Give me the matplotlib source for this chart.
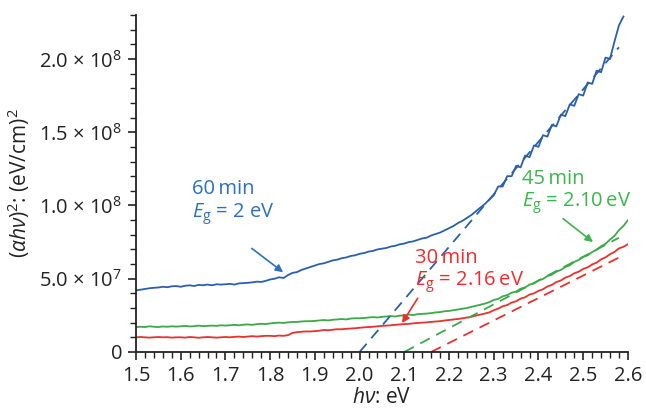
import numpy as np
import matplotlib
matplotlib.use("Agg")
import matplotlib.pyplot as plt
from matplotlib.ticker import MultipleLocator, FixedLocator, FixedFormatter

plt.rcParams['font.family'] = ['Open Sans', 'DejaVu Sans']
plt.rcParams['mathtext.fontset'] = 'custom'
plt.rcParams['mathtext.rm'] = 'Open Sans'
plt.rcParams['mathtext.it'] = 'Open Sans:italic'
plt.rcParams['mathtext.bf'] = 'Open Sans:bold'

# ---- data (y in units of 1e7 (eV/cm)^2) ----
hv = np.round(np.arange(1.50, 2.605, 0.01), 2)

blue_60 = [4.20, 4.25, 4.30, 4.35, 4.38, 4.40, 4.45, 4.42, 4.48, 4.50,
           4.45, 4.52, 4.55, 4.50, 4.58, 4.55, 4.60, 4.55, 4.62, 4.60,
           4.62, 4.65, 4.60, 4.68, 4.70, 4.72, 4.75, 4.80, 4.78, 4.85,
           4.95, 5.00, 5.10, 5.05, 5.25, 5.40, 5.45, 5.60, 5.70, 5.80,
           5.90, 6.00, 6.05, 6.15, 6.25, 6.30, 6.40, 6.45, 6.55, 6.60,
           6.70, 6.75, 6.85, 6.90, 7.00, 7.05, 7.10, 7.20, 7.25, 7.35,
           7.40, 7.50, 7.55, 7.65, 7.75, 7.80, 7.95, 8.05, 8.15, 8.30,
           8.45, 8.60, 8.80, 8.95, 9.15, 9.35, 9.60, 9.85, 10.1, 10.4,
           10.7, 11.3, 11.3, 12.0, 12.0, 12.7, 12.6, 13.4, 13.3, 14.1,
           14.0, 14.8, 14.7, 15.5, 15.4, 16.2, 16.1, 16.9, 16.8, 17.6,
           17.5, 18.4, 18.3, 19.2, 19.1, 20.1, 20.0, 21.2, 22.3, 22.9]

green_45 = [1.70, 1.72, 1.70, 1.75, 1.72, 1.70, 1.74, 1.72, 1.75, 1.73,
            1.75, 1.78, 1.74, 1.76, 1.80, 1.76, 1.78, 1.80, 1.78, 1.82,
            1.80, 1.82, 1.85, 1.82, 1.86, 1.88, 1.85, 1.90, 1.92, 1.90,
            1.95, 1.98, 2.00, 1.98, 2.02, 2.05, 2.05, 2.08, 2.10, 2.10,
            2.12, 2.15, 2.18, 2.15, 2.20, 2.22, 2.25, 2.22, 2.28, 2.30,
            2.30, 2.32, 2.35, 2.38, 2.35, 2.40, 2.42, 2.45, 2.42, 2.48,
            2.50, 2.55, 2.52, 2.58, 2.60, 2.62, 2.65, 2.70, 2.72, 2.78,
            2.80, 2.85, 2.90, 2.95, 3.00, 3.08, 3.15, 3.22, 3.30, 3.40,
            3.55, 3.62, 3.80, 3.88, 4.05, 4.12, 4.32, 4.40, 4.60, 4.68,
            4.88, 4.98, 5.18, 5.28, 5.48, 5.60, 5.80, 5.92, 6.15, 6.28,
            6.48, 6.60, 6.82, 6.98, 7.22, 7.38, 7.68, 7.92, 8.32, 8.60,
            9.00]

red_30 = [1.00, 1.02, 1.00, 0.98, 1.00, 1.02, 1.00, 1.01, 0.98, 1.00,
          1.00, 0.98, 1.02, 1.00, 0.97, 1.00, 1.02, 1.00, 0.98, 1.00,
          1.02, 1.00, 1.03, 1.05, 1.02, 1.05, 1.08, 1.05, 1.08, 1.10,
          1.10, 1.08, 1.12, 1.10, 1.15, 1.30, 1.35, 1.38, 1.40, 1.40,
          1.42, 1.45, 1.50, 1.48, 1.52, 1.55, 1.55, 1.58, 1.60, 1.62,
          1.65, 1.68, 1.70, 1.72, 1.75, 1.78, 1.80, 1.82, 1.85, 1.88,
          1.90, 1.92, 1.95, 1.98, 2.00, 2.02, 2.05, 2.08, 2.10, 2.15,
          2.18, 2.22, 2.25, 2.30, 2.35, 2.40, 2.48, 2.55, 2.62, 2.70,
          2.85, 2.96, 3.12, 3.20, 3.37, 3.46, 3.64, 3.73, 3.92, 4.00,
          4.17, 4.28, 4.47, 4.58, 4.77, 4.88, 5.07, 5.18, 5.37, 5.48,
          5.67, 5.78, 5.97, 6.10, 6.32, 6.46, 6.67, 6.83, 7.07, 7.18,
          7.35]

# linear fits (Tauc extrapolation): start x (=Eg), end x, end y (1e7 units)
fit_x0 = [2.00, 2.10, 2.16]
fit_x1 = [2.58, 2.58, 2.59]
fit_y1 = [20.8, 7.8, 6.6]

labels = ["60\u2009min\n$E_\\mathrm{g}$ = 2 eV",
          "45\u2009min\n$E_\\mathrm{g}$ = 2.10\u2009eV",
          "30\u2009min\n$E_\\mathrm{g}$ = 2.16\u2009eV"]
label_xy = [(1.626, 11.8), (2.363, 12.5), (2.124, 7.1)]
arrow_from = [(1.759, 7.07), (2.455, 9.1), (2.130, 3.67)]
arrow_to = [(1.829, 5.44), (2.522, 7.5), (2.095, 1.97)]

yticks = [0, 5, 10, 15, 20]
ytick_labels = ["0", "5.0 × 10$^{7}$", "1.0 × 10$^{8}$", "1.5 × 10$^{8}$", "2.0 × 10$^{8}$"]

line_colors = ['#2a60aa', '#3aa94a', '#e8302e']
text_colors = ['#2b70c0', '#3cb54a', '#ee2c2c']

fig = plt.figure(figsize=(6.46, 4.18), dpi=100)
ax = fig.add_axes([0.2105, 0.158, 0.7615, 0.806])

series = [(hv[:len(blue_60)], blue_60), (hv, green_45), (hv, red_30)]
for (x, y), c in zip(series, line_colors):
    ax.plot(x, y, color=c, lw=1.3)

for x0, x1, y1, c in zip(fit_x0, fit_x1, fit_y1, line_colors):
    ax.plot([x0, x1], [0, y1], color=c, lw=1.3, ls=(0, (6, 4)))

for lab, xy, a0, a1, c in zip(labels, label_xy, arrow_from, arrow_to, text_colors):
    ax.text(xy[0], xy[1], lab, color=c, fontsize=14.5, ha='left', va='top',
            linespacing=1.1)
    ax.annotate('', xy=a1, xytext=a0,
                arrowprops=dict(arrowstyle='-|>', color=c, lw=1.2,
                                mutation_scale=11, shrinkA=0, shrinkB=0))

ax.set_xlim(1.5, 2.6)
ax.set_ylim(0, 23)
ax.xaxis.set_major_locator(MultipleLocator(0.1))
ax.xaxis.set_minor_locator(MultipleLocator(0.02))
ax.xaxis.set_major_formatter(matplotlib.ticker.FormatStrFormatter('%.1f'))
ax.yaxis.set_major_locator(FixedLocator(yticks))
ax.yaxis.set_major_formatter(FixedFormatter(ytick_labels))
ax.yaxis.set_minor_locator(MultipleLocator(1))

for s in ['top', 'right']:
    ax.spines[s].set_visible(False)
for s in ['left', 'bottom']:
    ax.spines[s].set_linewidth(1.3)
    ax.spines[s].set_color('#222222')

ax.tick_params(which='major', direction='out', length=6, width=1.2,
               labelsize=14.5, colors='#222222', pad=4)
ax.tick_params(which='minor', direction='out', length=4, width=1.0, colors='#222222')

ax.set_xlabel('$h\\nu$: eV', fontsize=15, color='#222222', labelpad=1)
ax.set_ylabel('$(\\alpha h\\nu)^{2}$: (eV/cm)$^{2}$', fontsize=15, color='#222222', labelpad=5)

fig.savefig('out.png', dpi=100)
